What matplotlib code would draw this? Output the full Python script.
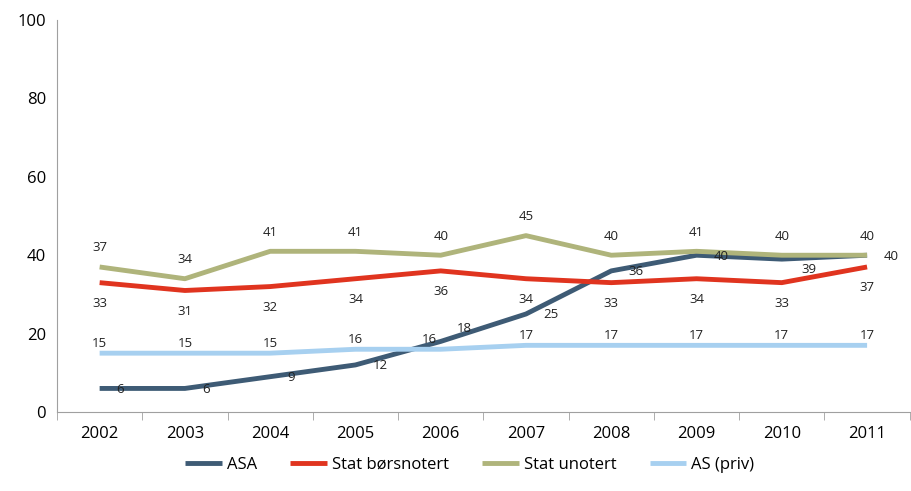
import matplotlib.pyplot as plt
import numpy as np

years = ["2002", "2003", "2004", "2005", "2006", "2007", "2008", "2009", "2010", "2011"]
asa = [6, 6, 9, 12, 18, 25, 36, 40, 39, 40]
stat_bors = [33, 31, 32, 34, 36, 34, 33, 34, 33, 37]
stat_unot = [37, 34, 41, 41, 40, 45, 40, 41, 40, 40]
as_priv = [15, 15, 15, 16, 16, 17, 17, 17, 17, 17]

plt.rcParams["font.family"] = ["Open Sans", "DejaVu Sans"]

fig = plt.figure(figsize=(9.12, 4.91), dpi=100)
ax = fig.add_axes([0.0625, 0.161, 0.935, 0.798])

x = np.arange(len(years))
series = [
    ("ASA", asa, "#3e5b75", (17, -1), "left"),
    ("Stat børsnotert", stat_bors, "#e0341f", (0, -21), "center"),
    ("Stat unotert", stat_unot, "#afb47b", (0, 19), "center"),
    ("AS (priv)", as_priv, "#a7d0f0", (0, 10), "center"),
]

# a few labels sit a bit differently in the original
special = {("ASA", 4): (16, 13), ("ASA", 8): (20, -10), ("AS (priv)", 4): (-11, 10)}

for name, vals, col, off, ha in series:
    ax.plot(x, vals, color=col, lw=3.5, label=name, solid_capstyle="butt")

for name, vals, col, off, ha in series:
    for i, v in enumerate(vals):
        o = special.get((name, i), off)
        ax.annotate(str(v), (x[i], v), xytext=o, textcoords="offset pixels",
                    ha=ha, va="center", fontsize=9.5, color="#222222")

ax.set_xlim(-0.5, 9.5)
ax.set_ylim(0, 100)
ax.set_yticks([0, 20, 40, 60, 80, 100])
ax.set_xticks(x)
ax.set_xticklabels(years)
ax.set_xticks(np.arange(-0.5, 10, 1), minor=True)
ax.tick_params(axis="x", which="major", length=0, labelsize=12, pad=10)
ax.tick_params(axis="x", which="minor", length=6, color="#a0a0a0")
ax.tick_params(axis="y", length=0, labelsize=12, pad=8)

for s in ["top", "right"]:
    ax.spines[s].set_visible(False)
for s in ["left", "bottom"]:
    ax.spines[s].set_color("#a0a0a0")

handles, labels = ax.get_legend_handles_labels()
fig.legend(handles, labels, loc="center", bbox_to_anchor=(0.515, 0.053), ncol=4, frameon=False,
           fontsize=12, handlelength=2.2, handletextpad=0.3, columnspacing=2.0)

plt.savefig("out.png", dpi=100)
plt.close()
